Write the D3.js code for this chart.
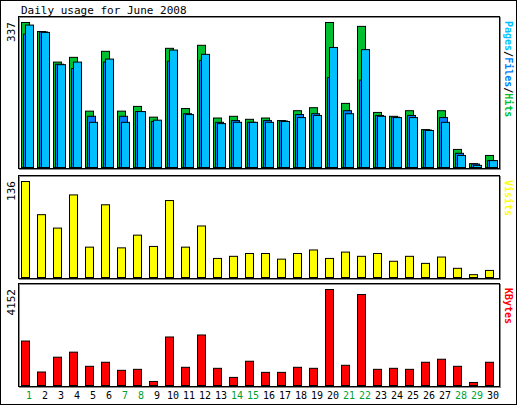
<!DOCTYPE html>
<html><head><meta charset="utf-8">
<script src="https://cdn.jsdelivr.net/npm/d3@7"></script>
<style>body{margin:0;background:#fff}text{font-family:"DejaVu Sans Mono",monospace}</style>
</head><body><div id="chart"></div>
<script>
const days = d3.range(1, 31);
const weekends = [1, 7, 8, 14, 15, 21, 22, 28, 29];
const hits  = [337,316,245,256,131,270,131,142,117,277,137,284,115,119,112,115,109,132,139,337,149,328,128,119,132,88,132,42,9,28];
const files = [310,315,240,230,119,245,119,130,107,247,125,249,105,109,105,109,108,123,125,209,132,203,121,117,121,87,116,33,8,16];
const pages = [331,314,239,245,105,252,105,130,110,273,123,263,102,105,105,105,107,116,121,279,125,274,119,116,116,86,105,28,5,16];
const visits = [136,89,70,117,43,103,42,60,44,109,43,73,27,30,34,34,26,34,39,27,36,30,34,23,30,20,29,13,4,10];
const kbytes = [1923,583,1224,1442,830,1005,656,699,175,2098,787,2185,743,350,1049,568,568,787,743,4152,874,3934,699,743,699,1005,1136,830,131,1005];

const W = 517, H = 405;
const svg = d3.select("#chart").append("svg").attr("width", W).attr("height", H);
svg.append("rect").attr("x", 0.5).attr("y", 0.5).attr("width", W - 1).attr("height", H - 1)
  .attr("fill", "#fff").attr("stroke", "#000");

svg.append("text").attr("x", 21).attr("y", 14).attr("font-size", 11).text("Daily usage for June 2008");

const x = d3.scaleBand().domain(days).range([21, 501]).paddingInner(0);

function panel(y0, y1, max, label, labelParts) {
  svg.append("rect").attr("x", 19.5).attr("y", y0 + 0.5).attr("width", 481).attr("height", y1 - y0)
    .attr("fill", "#fff").attr("stroke", "#888");
  svg.append("rect").attr("x", 18.5).attr("y", y0 - 0.5).attr("width", 481).attr("height", y1 - y0)
    .attr("fill", "none").attr("stroke", "#000");
  svg.append("text").attr("transform", `translate(15,${y0 + 5}) rotate(-90)`)
    .attr("text-anchor", "end").attr("font-size", 11).text(label);
  const t = svg.append("text").attr("transform", `translate(505,${y0 + 4}) rotate(90)`)
    .attr("font-size", 10).attr("font-weight", "bold");
  labelParts.forEach(([s, c]) => t.append("tspan").attr("fill", c).text(s));
  return d3.scaleLinear().domain([0, max]).range([y1 - 2, y0 + 5]);
}

function bars(data, y, color, off, w) {
  svg.append("g").selectAll("rect").data(data).join("rect")
    .attr("x", (d, i) => x(days[i]) + off + 0.5)
    .attr("y", d => y(d) + 0.5)
    .attr("width", w)
    .attr("height", d => y(0) - y(d))
    .attr("fill", color).attr("stroke", "#000");
}

const y1 = panel(17, 169, 337, "337",
  [["Pages", "#00c0ff"], ["/", "#000"], ["Files", "#0080ff"], ["/", "#000"], ["Hits", "#00c030"]]);
bars(hits, y1, "#00c030", 0, 8);
bars(files, y1, "#0080ff", 2, 8);
bars(pages, y1, "#00c0ff", 4, 8);

const y2 = panel(176, 279, 136, "136", [["Visits", "#ffff00"]]);
bars(visits, y2, "#ffff00", 0, 8);

const y3 = panel(284, 387, 4152, "4152", [["KBytes", "#ff0000"]]);
bars(kbytes, y3, "#ff0000", 0, 8);

svg.append("g").selectAll("text").data(days).join("text")
  .attr("x", d => x(d) + 8).attr("y", 399).attr("text-anchor", "middle").attr("font-size", 10)
  .attr("fill", d => weekends.includes(d) ? "#00a030" : "#000").text(d => d);
</script></body></html>
